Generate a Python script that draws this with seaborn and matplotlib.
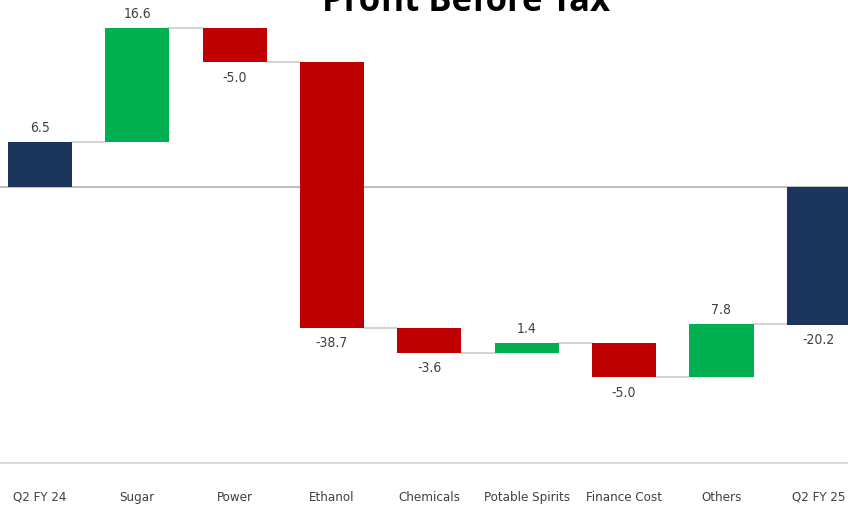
import matplotlib
matplotlib.use("Agg")
import matplotlib.pyplot as plt
import seaborn as sns
import numpy as np

categories = ["Q2 FY 24", "Sugar", "Power", "Ethanol", "Chemicals",
              "Potable Spirits", "Finance Cost", "Others", "Q2 FY 25"]
values = [6.5, 16.6, -5.0, -38.7, -3.6, 1.4, -5.0, 7.8, -20.2]
kinds = ["total", "delta", "delta", "delta", "delta", "delta", "delta", "delta", "total"]
title = "Profit Before Tax"

sns.set_theme(style="white")
plt.rcParams['font.family'] = ['DejaVu Sans']
plt.rcParams['font.stretch'] = 'condensed'

C_TOTAL = "#1b355c"
C_UP = "#00b050"
C_DOWN = "#c00000"
TXT = "#404040"

fig = plt.figure(figsize=(8.48, 5.12), dpi=100)
ax = fig.add_axes([0, (512 - 463) / 512, 1, 463 / 512])

w = 0.66
bottoms, heights, colors, ends = [], [], [], []
run = 0.0
for v, k in zip(values, kinds):
    if k == "total":
        b, h = 0.0, v
        run = v
        c = C_TOTAL
    else:
        b, h = run, v
        run = run + v
        c = C_UP if v > 0 else C_DOWN
    bottoms.append(b)
    heights.append(h)
    colors.append(c)
    ends.append(run)

x = np.arange(len(categories))
ax.bar(x, heights, bottom=bottoms, width=w, color=colors, edgecolor="none", zorder=3)

# connectors
for i in range(len(categories) - 1):
    ax.plot([x[i] + w / 2, x[i + 1] - w / 2], [ends[i], ends[i]],
            color="#d4d4d4", lw=1.5, zorder=2)

ax.axhline(0, color="#bfbfbf", lw=1.5, zorder=1)

for i, (b, h, v) in enumerate(zip(bottoms, heights, values)):
    if v >= 0:
        ax.annotate(f"{v:.1f}", (x[i], b + h), xytext=(0, 5), textcoords="offset points",
                    ha="center", va="bottom", fontsize=10, color=TXT, fontstretch="condensed")
    else:
        ax.annotate(f"{v:.1f}", (x[i], b + h), xytext=(0, -6), textcoords="offset points",
                    ha="center", va="top", fontsize=10, color=TXT, fontstretch="condensed")

ax.set_xlim(-0.41, 8.30)
ax.set_ylim(-40.3, 27.2)
ax.set_xticks(x)
ax.set_xticklabels(categories, fontsize=9.5, color=TXT, fontstretch="condensed")
ax.tick_params(axis="x", length=0, pad=20)
ax.set_yticks([])
for s in ["top", "left", "right"]:
    ax.spines[s].set_visible(False)
ax.spines["bottom"].set_color("#d9d9d9")
ax.spines["bottom"].set_linewidth(1.5)

fig.text(0.55, 1 - 11 / 512, title, ha="center", va="baseline",
         fontsize=25, fontweight="bold", color="black", family=["Open Sans", "DejaVu Sans"])

fig.savefig("out.png", dpi=100)
